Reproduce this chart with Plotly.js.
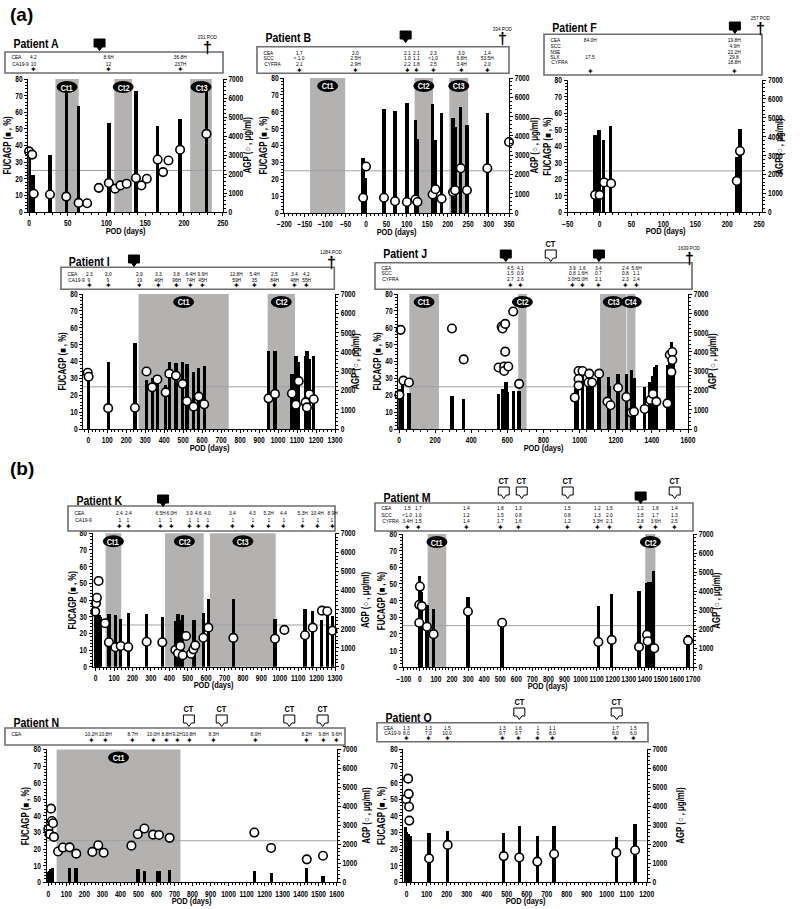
<!DOCTYPE html>
<html><head><meta charset="utf-8">
<script src="https://cdn.plot.ly/plotly-3.0.1.min.js"></script>
<style>body{margin:0;background:#fff}#chart{width:800px;height:909px}</style>
</head><body><div id="chart"></div>
<script>
// ---------------- DATA ----------------
// Patient A
const A_barDay = [0, 5, 27, 48, 64, 103, 138, 166, 195, 229];
const A_fucagp = [36, 22, 34.5, 71.5, 63.5, 53.5, 72.5, 52, 56, 76];
const A_agpDay = [0, 4, 6, 27, 48, 64, 75, 90, 103, 111, 118, 126, 138, 145, 152, 166, 173, 180, 195, 229];
const A_agp = [3190, 3020, 960, 920, 810, 480, 460, 1270, 1530, 1230, 1400, 1490, 1790, 1400, 1750, 2760, 2100, 2710, 3280, 4110];
const A_ctStart = [34, 110, 208];
const A_ctEnd = [64, 133, 236];
const A_hdrDay = [6, 102, 196];
const A_CEA = ['4.2', '8.6H', '36.8H'];
const A_CA199 = ['10', '12', '237H'];

// Patient B
const B_barDay = [-7, -2, 44, 71, 100, 121, 126, 163, 170, 185, 213, 218, 232, 247, 297];
const B_fucagp = [32.5, 20.5, 61.5, 60.5, 65, 55, 44, 64.5, 43, 59.5, 56.5, 51, 63, 52, 59];
const B_agpDay = [-7, 0, 44, 71, 100, 121, 126, 163, 170, 185, 213, 218, 232, 247, 297, 350];
const B_agp = [790, 2410, 790, 610, 570, 700, 570, 960, 1230, 740, 1090, 1180, 2320, 1180, 2320, 3680];
const B_ctStart = [-137, 119, 204];
const B_ctEnd = [-51, 164, 250];
const B_hdrDay = [-164, -25, 102, 124, 164, 233, 297];
const B_CEA = ['1.7', '2.0', '2.1', '2.1', '2.3', '3.0', '1.4'];
const B_SCC = ['< 1.0', '2.5H', '1.0', '1.1', '<1.0', '6.8H', '53.5H'];
const B_CYFRA = ['2.1', '2.9H', '2.2', '1.8', '2.5', '3.4H', '2.0'];

// Patient F
const F_barDay = [-7, -1, 6, 17, 215, 220];
const F_fucagp = [47, 49.5, 44, 52, 33.5, 50.5];
const F_agpDay = [-7, 0, 7, 18, 215, 220];
const F_agp = [920, 920, 1580, 1530, 1660, 3240];
const F_ctStart = [];
const F_ctEnd = [];
const F_hdrDay = [-14, 212];
const F_CEA = ['84.0H', '19.8H'];
const F_SCC = ['', '4.9H'];
const F_NSE = ['', '22.2H'];
const F_SLX = ['17.5', '29.8'];
const F_CYFRA = ['', '18.8H'];

// Patient I
const I_barDay = [0, 105, 246, 307, 337, 364, 408, 427, 462, 497, 520, 555, 582, 611, 950, 984, 1073, 1094, 1109, 1145, 1152, 1165, 1188];
const I_fucagp = [33, 39.5, 51, 29, 30.5, 27, 26, 39.5, 39, 39.5, 38.5, 33.5, 36, 37.5, 46.5, 46, 32.5, 43.5, 39.5, 43.5, 46.5, 41.5, 43.5];
const I_agpDay = [-3, 2, 105, 246, 307, 337, 364, 408, 427, 462, 497, 520, 555, 582, 611, 950, 984, 1073, 1094, 1109, 1145, 1152, 1165, 1188];
const I_agp = [2920, 2710, 1080, 1100, 2980, 2160, 2570, 1900, 2870, 2770, 2340, 1440, 1160, 1680, 1280, 1590, 1820, 1840, 1260, 2480, 1380, 1120, 1800, 1540];
const I_ctStart = [265, 945];
const I_ctEnd = [740, 1089];
const I_hdrDay = [5, 105, 269, 368, 466, 541, 603, 782, 877, 979, 1086, 1148];
const I_CEA = ['2.3', '2.0', '2.9', '3.3', '3.8', '6.4H', '9.9H', '12.8H', '5.4H', '2.5', '3.4', '4.2'];
const I_CA199 = ['9', '9', '19', '46H', '96H', '74H', '45H', '59H', '35', '84H', '48H', '55H'];

// Patient J
const J_barDay = [6, 20, 55, 293, 358, 551, 573, 582, 592, 601, 632, 665, 977, 986, 1016, 1043, 1056, 1069, 1108, 1158, 1167, 1213, 1259, 1287, 1301, 1360, 1388, 1403, 1416, 1427, 1486, 1499, 1508, 1517];
const J_fucagp = [24, 26, 21.5, 19.5, 17.5, 20.5, 24, 24, 28, 22, 22.5, 22.5, 24, 26, 33, 28, 27, 27.5, 33, 31, 25.5, 32.5, 32.5, 35, 30.5, 25, 28, 31.5, 36.5, 38, 38, 47, 51.5, 44];
const J_agpDay = [2, 9, 24, 55, 293, 358, 551, 568, 573, 588, 582, 582, 588, 605, 632, 665, 973, 994, 994, 994, 1016, 1053, 1049, 1069, 1108, 1154, 1171, 1213, 1259, 1287, 1301, 1360, 1392, 1406, 1425, 1486, 1499, 1513, 1513, 1508];
const J_agp = [1770, 5140, 2510, 2410, 5210, 3610, 3190, 5310, 5210, 5450, 3240, 3010, 4010, 3240, 6090, 2340, 1630, 3010, 2590, 2250, 3010, 2870, 2410, 2410, 2870, 1420, 1230, 2140, 1660, 850, 900, 1040, 1510, 1820, 1420, 1330, 3850, 3990, 3580, 2960];
const J_ctStart = [57, 660, 1113, 1263];
const J_ctEnd = [221, 706, 1259, 1309];
const J_hdrDay = [618, 672, 963, 1017, 1106, 1256, 1314];
const J_CEA = ['4.5', '4.1', '3.9', '1.6', '3.4', '2.4', '5.6H'];
const J_SCC = ['1.5', '0.9', '0.8', '1.6H', '0.7', '0.8', '1.1'];
const J_CYFRA = ['2.7', '2.6', '3.0H', '3.0H', '2.1', '2.3', '2.4'];

// Patient K
const K_barDay = [-2, 3, 8, 13, 18, 23, 72, 107, 136, 177, 277, 362, 433, 447, 460, 473, 534, 585, 612, 748, 974, 1137, 1179, 1228, 1258, 1287];
const K_fucagp = [31, 31, 31, 30.5, 31, 30, 31.5, 31, 28.5, 32.5, 31.5, 30, 27.5, 31.5, 28, 31, 28, 32, 40.5, 40.5, 28.5, 34.5, 33.5, 28, 33, 30.5];
const K_agpDay = [-2, 2, 7, 16, 51, 72, 107, 136, 177, 277, 362, 433, 447, 460, 473, 491, 518, 531, 541, 585, 612, 748, 974, 1025, 1137, 1179, 1229, 1258, 1286];
const K_agp = [2890, 3330, 3620, 4500, 2280, 1280, 1020, 1090, 1030, 1310, 1280, 880, 700, 1090, 600, 1610, 680, 910, 1120, 1520, 2050, 1510, 1470, 1930, 1650, 2050, 2940, 2910, 1890];
const K_ctStart = [54, 377, 621];
const K_ctEnd = [139, 587, 978];
const K_hdrDay = [130, 178, 352, 410, 510, 556, 610, 744, 852, 940, 1022, 1124, 1205, 1284];
const K_CEA = ['2.4', '2.4', '6.5H', '6.0H', '3.9', '4.6', '4.0', '3.4', '4.3', '5.2H', '4.4', '5.3H', '10.4H', '8.9H'];
const K_CA199 = ['1', '1', '1', '1', '1', '1', '1', '1', '1', '1', '1', '1', '1', '1'];

// Patient M
const M_barDay = [-4, 4, 12, 44, 85, 299, 512, 1111, 1194, 1364, 1414, 1424, 1434, 1445, 1455, 1669];
const M_fucagp = [55, 50, 45, 37.5, 35, 42, 26.5, 37, 44, 45.5, 50.5, 51, 49, 51, 58, 19.5];
const M_agpDay = [0, -4, -4, 12, 44, 85, 299, 512, 1111, 1194, 1364, 1414, 1418, 1459, 1669];
const M_agp = [4240, 2340, 3280, 3210, 2130, 1740, 2930, 2340, 1330, 1440, 1070, 1710, 1370, 1000, 1400];
const M_ctStart = [48, 1403];
const M_ctEnd = [164, 1466];
const M_hdrDay = [-78, -10, 290, 504, 616, 920, 1107, 1182, 1374, 1468, 1585];
const M_CEA = ['1.5', '1.7', '1.4', '1.8', '1.3', '1.5', '1.2', '1.5', '1.2', '1.8', '1.4'];
const M_SCC = ['<1.0', '1.0', '1.2', '1.5', '0.8', '0.8', '1.3', '2.0', '1.5', '1.7', '1.3'];
const M_CYFRA = ['3.4H', '1.5', '1.4', '1.7', '1.6', '1.2', '3.3H', '2.1', '2.8', '3.6H', '2.5'];

// Patient N
const N_barDay = [0, 7, 15, 22, 116, 153, 498, 533, 609, 618, 673, 1145, 1237, 1434, 1524];
const N_fucagp = [6.5, 7, 8, 8.5, 8.5, 8.5, 8, 7, 7, 7, 7.5, 7, 5.5, 8.5, 4];
const N_agpDay = [0, 7, 15, 20, 26, 31, 54, 81, 118, 155, 244, 277, 307, 461, 496, 533, 581, 614, 673, 1143, 1236, 1434, 1524];
const N_agp = [2800, 2540, 3880, 3230, 3110, 2390, 1620, 1830, 1840, 1510, 1600, 1950, 1560, 1930, 2530, 2830, 2510, 2490, 2340, 2620, 1810, 1210, 1400];
const N_ctStart = [46];
const N_ctEnd = [733];
const N_hdrDay = [242, 316, 468, 583, 653, 714, 782, 917, 1150, 1434, 1526, 1597];
const N_CEA = ['10.2H', '10.8H', '8.7H', '10.0H', '8.8H', '9.2H', '10.8H', '8.3H', '8.0H', '8.2H', '9.8H', '9.6H'];

// Patient O
const O_barDay = [-7, 0, 7, 13, 18, 112, 205, 485, 563, 653, 737, 1048, 1142];
const O_fucagp = [33.5, 30, 29, 28, 28, 29.5, 31, 29.5, 34, 28, 34, 27.5, 35];
const O_agpDay = [-3, 7, 10, 12, 13, 112, 205, 485, 563, 653, 737, 1048, 1142];
const O_agp = [4380, 5460, 4660, 3980, 3250, 1260, 1970, 1380, 1310, 1090, 1490, 1560, 1690];
const O_ctStart = [];
const O_ctEnd = [];
const O_hdrDay = [-3, 107, 203, 481, 560, 655, 730, 1045, 1133];
const O_CEA = ['1.3', '1.3', '1.5', '1.3', '1.6', '1', '1.1', '1.7', '1.5'];
const O_CA199 = ['8.0', '7.0', '10.0', '9.7', '9.7', '6', '8.0', '8.0', '6.0'];

// ---------------- LAYOUT CONFIG ----------------
const W = 800, H = 909;
const FONT = 'Liberation Sans Narrow, Arial Narrow, Liberation Sans, Arial, sans-serif';

const panels = [
 {name:'Patient A', px:[28.3,222.7], py:[79,212], xr:[-1,250], dt:50,
  barDay:A_barDay, fuc:A_fucagp, agpDay:A_agpDay, agp:A_agp, ctS:A_ctStart, ctE:A_ctEnd,
  title:[5,44], box:[5,223,52,73], rowY:[57,63.5], starY:69, hdrDay:A_hdrDay,
  rows:[['CEA',A_CEA],['CA19-9',A_CA199]],
  squares:[91], sqY:44, cts:[], ctY:0, cross:231, crossY:47, crossLbl:'231 POD', rt:25},
 {name:'Patient B', px:[284.3,509], py:[78,213], xr:[-200,350], dt:50,
  barDay:B_barDay, fuc:B_fucagp, agpDay:B_agpDay, agp:B_agp, ctS:B_ctStart, ctE:B_ctEnd,
  title:[257,37], box:[257,509,46.7,73.3], rowY:[52.3,58,63.3], starY:70, hdrDay:B_hdrDay,
  rows:[['CEA',B_CEA],['SCC',B_SCC],['CYFRA',B_CYFRA]],
  squares:[97], sqY:36, cts:[], ctY:0, cross:333, crossY:39, crossLbl:'334 POD', rt:25},
 {name:'Patient F', px:[567.7,762.3], py:[80,212.3], xr:[-50,255], dt:50,
  barDay:F_barDay, fuc:F_fucagp, agpDay:F_agpDay, agp:F_agp, ctS:F_ctStart, ctE:F_ctEnd,
  title:[544,27], box:[544,762,34.3,75], rowY:[39.3,45,51,56.7,62], starY:71.7, hdrDay:F_hdrDay,
  rows:[['CEA',F_CEA],['SCC',F_SCC],['NSE',F_NSE],['SLX',F_SLX],['CYFRA',F_CYFRA]],
  squares:[212], sqY:27, cts:[], ctY:0, cross:252, crossY:28, crossLbl:'257 POD', rt:17},
 {name:'Patient I', px:[83.3,335], py:[294,429], xr:[-26,1300], dt:100,
  barDay:I_barDay, fuc:I_fucagp, agpDay:I_agpDay, agp:I_agp, ctS:I_ctStart, ctE:I_ctEnd,
  title:[61,261], box:[61,334.3,267.3,289.3], rowY:[273,279.5], starY:285, hdrDay:I_hdrDay,
  rows:[['CEA',I_CEA],['CA19-9',I_CA199]],
  squares:[241], sqY:260, cts:[], ctY:0, cross:1283, crossY:262, crossLbl:'1284 POD', rt:20},
 {name:'Patient J', px:[398.3,688], py:[294,429], xr:[-4,1600], dt:200,
  barDay:J_barDay, fuc:J_fucagp, agpDay:J_agpDay, agp:J_agp, ctS:J_ctStart, ctE:J_ctEnd,
  title:[375,254], box:[375,692,262.7,289.3], rowY:[267.3,272.7,278], starY:285, hdrDay:J_hdrDay,
  rows:[['CEA',J_CEA],['SCC',J_SCC],['CYFRA',J_CYFRA]],
  squares:[591,1107], sqY:255, cts:[840], ctY:255, cross:1611, crossY:258, crossLbl:'1639 POD', rt:24},
 {name:'Patient K', px:[92.7,335], py:[533.3,666.7], xr:[-16,1300], dt:100,
  barDay:K_barDay, fuc:K_fucagp, agpDay:K_agpDay, agp:K_agp, ctS:K_ctStart, ctE:K_ctEnd,
  title:[68,500], box:[68,335,506,531], rowY:[512,519], starY:526, hdrDay:K_hdrDay,
  rows:[['CEA',K_CEA],['CA19-9',K_CA199]],
  squares:[366], sqY:500, cts:[], ctY:0, cross:null, rt:30},
 {name:'Patient M', px:[402.7,693], py:[534,667.3], xr:[-107,1700], dt:100,
  barDay:M_barDay, fuc:M_fucagp, agpDay:M_agpDay, agp:M_agp, ctS:M_ctStart, ctE:M_ctEnd,
  title:[375,498], box:[375,693,503,531], rowY:[507.5,514,520.5], starY:527, hdrDay:M_hdrDay,
  rows:[['CEA',M_CEA],['SCC',M_SCC],['CYFRA',M_CYFRA]],
  squares:[1374], sqY:497, cts:[522,634,920,1586], ctY:492, cross:null, rt:24},
 {name:'Patient N', px:[46.7,336.7], py:[749.4,882.3], xr:[-9,1600], dt:100,
  barDay:N_barDay, fuc:N_fucagp, agpDay:N_agpDay, agp:N_agp, ctS:N_ctStart, ctE:N_ctEnd,
  title:[5,722], box:[5,345,728,745], rowY:[733], starY:740, hdrDay:N_hdrDay,
  rows:[['CEA',N_CEA]],
  squares:[], sqY:0, cts:[780,962,1337,1522], ctY:720, cross:null, rt:30},
 {name:'Patient O', px:[403.3,646.7], py:[749.4,882.3], xr:[-17,1200], dt:100,
  barDay:O_barDay, fuc:O_fucagp, agpDay:O_agpDay, agp:O_agp, ctS:O_ctStart, ctE:O_ctEnd,
  title:[377,717], box:[377,648,722.7,741.7], rowY:[727,732.5], starY:738.5, hdrDay:O_hdrDay,
  rows:[['CEA',O_CEA],['CA19-9',O_CA199]],
  squares:[], sqY:0, cts:[563,1050], ctY:713, cross:null, rt:34}
];

const data = [], shapes = [], annotations = [];
const layout = {
  width: W, height: H, autosize: false,
  margin: {l:0, r:0, t:0, b:0},
  showlegend: false,
  paper_bgcolor: 'white', plot_bgcolor: 'rgba(0,0,0,0)',
  font: {family: FONT, color: 'black'},
  bargap: 0
};

const px2px = x => x / W;
const py2py = y => 1 - y / H;
const tickfont = {family: FONT, size: 8.5, color: 'black', weight: 'bold'};
const axBase = {showline:true, linecolor:'black', linewidth:1, ticks:'outside', ticklen:3, tickangle:0,
  tickwidth:1, tickcolor:'black', showgrid:false, zeroline:false, tickfont:tickfont, fixedrange:true};
const HDR = 6.2;

function txt(x, y, text, opts) {
  annotations.push(Object.assign({xref:'paper', yref:'paper', x:px2px(x), y:py2py(y), text:text,
    showarrow:false, xanchor:'center', yanchor:'middle', font:{family:FONT, size:7, color:'black'}}, opts || {}));
}

panels.forEach((p, k) => {
  const xid = k === 0 ? 'x' : 'x' + (k + 1);
  const ylid = k === 0 ? 'y' : 'y' + (2 * k + 1);
  const yrid = 'y' + (2 * k + 2);
  const xName = k === 0 ? 'xaxis' : 'xaxis' + (k + 1);
  const ylName = k === 0 ? 'yaxis' : 'yaxis' + (2 * k + 1);
  const yrName = 'yaxis' + (2 * k + 2);
  const ppd = (p.px[1] - p.px[0]) / (p.xr[1] - p.xr[0]);
  const dx = d => p.px[0] + (d - p.xr[0]) * ppd;   // day -> pixel x

  layout[xName] = Object.assign({}, axBase, {
    domain:[px2px(p.px[0]), px2px(p.px[1])], anchor: ylid, range: p.xr, tick0: 0, dtick: p.dt,
    minor:{ticks:'outside', ticklen:2, tickcolor:'black', dtick: p.dt / 5, showgrid:false}
  });
  layout[ylName] = Object.assign({}, axBase, {
    domain:[py2py(p.py[1]), py2py(p.py[0])], anchor: xid, range:[0, 80], dtick: 10,
    minor:{ticks:'outside', ticklen:2, tickcolor:'black', dtick: 2, showgrid:false}
  });
  layout[yrName] = Object.assign({}, axBase, {
    overlaying: ylid, side:'right', anchor: xid, range:[0, 7000], dtick: 1000,
    minor:{ticks:'outside', ticklen:2, tickcolor:'black', dtick: 200, showgrid:false}
  });

  data.push({type:'bar', x:p.barDay, y:p.fuc, xaxis:xid, yaxis:ylid, width: 3.3 / ppd,
    marker:{color:'black', line:{width:0}}, hoverinfo:'skip'});
  data.push({type:'scatter', mode:'markers', x:p.agpDay, y:p.agp, xaxis:xid, yaxis:yrid, cliponaxis:false,
    marker:{symbol:'circle', size:8.5, color:'white', line:{color:'black', width:1.6}}, hoverinfo:'skip'});

  p.ctS.forEach((s, i) => {
    shapes.push({type:'rect', xref:xid, yref: ylid + ' domain', x0:s, x1:p.ctE[i], y0:0, y1:1,
      fillcolor:'#b4b1b1', line:{width:0}, layer:'below'});
  });
  shapes.push({type:'line', xref: xid + ' domain', yref: ylid, x0:0, x1:1, y0:25, y1:25,
    line:{color:'#a0a0a0', width:1}, layer:'below'});
  p.ctS.forEach((s, i) => {
    const cx = dx((s + p.ctE[i]) / 2), cy = p.py[0] + 8;
    shapes.push({type:'circle', xref:'paper', yref:'paper', x0:px2px(cx - 10.5), x1:px2px(cx + 10.5),
      y0:py2py(cy + 6), y1:py2py(cy - 6), fillcolor:'black', line:{color:'black', width:0}});
    txt(cx, cy, 'Ct' + (i + 1), {font:{family:FONT, size:9.5, color:'white', weight:'bold'}});
  });

  const cyMid = (p.py[0] + p.py[1]) / 2;
  txt(p.px[0] - 21, cyMid, 'FUCAGP (■ , %)', {textangle:-90, font:{family:FONT, size:10, color:'black', weight:'bold'}});
  txt(p.px[1] + p.rt, cyMid, 'AGP (○ , μg/ml)', {textangle:-90, font:{family:FONT, size:10, color:'black', weight:'bold'}});
  txt((p.px[0] + p.px[1]) / 2, p.py[1] + 18, 'POD (days)', {font:{family:FONT, size:9.5, color:'black', weight:'bold'}});

  txt(p.title[0], p.title[1], p.name, {xanchor:'left', font:{family:FONT, size:13.5, color:'black', weight:'bold'}});

  shapes.push({type:'rect', xref:'paper', yref:'paper', x0:px2px(p.box[0]), x1:px2px(p.box[1]),
    y0:py2py(p.box[3]), y1:py2py(p.box[2]), fillcolor:'white', line:{color:'#6e6e6e', width:1.6}});
  p.rows.forEach((r, ri) => {
    txt(p.box[0] + 3, p.rowY[ri], r[0], {xanchor:'left', font:{family:FONT, size:HDR, color:'black'}});
    r[1].forEach((v, ci) => {
      if (v !== '') txt(dx(p.hdrDay[ci]), p.rowY[ri], v, {font:{family:FONT, size:HDR, color:'black'}});
    });
  });
  p.hdrDay.forEach(d => {
    txt(dx(d), p.starY, '✦', {font:{family:'DejaVu Sans', size:8, color:'black'}});
  });

  const markPath = (cx, cy) => 'M' + px2px(cx - 5.5) + ',' + py2py(cy - 5) + ' L' + px2px(cx + 5.5) + ',' + py2py(cy - 5) +
      ' L' + px2px(cx + 5.5) + ',' + py2py(cy + 3) + ' L' + px2px(cx + 2.5) + ',' + py2py(cy + 3) +
      ' L' + px2px(cx) + ',' + py2py(cy + 6.5) + ' L' + px2px(cx - 2.5) + ',' + py2py(cy + 3) +
      ' L' + px2px(cx - 5.5) + ',' + py2py(cy + 3) + ' Z';
  p.squares.forEach(d => {
    shapes.push({type:'path', xref:'paper', yref:'paper', path:markPath(dx(d), p.sqY), fillcolor:'black', line:{color:'black', width:1}});
  });
  p.cts.forEach(d => {
    const cx = dx(d);
    shapes.push({type:'path', xref:'paper', yref:'paper', path:markPath(cx, p.ctY), fillcolor:'white', line:{color:'black', width:1}});
    txt(cx, p.ctY - 11.5, 'CT', {font:{family:FONT, size:9.5, color:'black', weight:'bold'}});
  });
  if (p.cross !== null) {
    const cx = dx(p.cross);
    txt(cx, p.crossY, '†', {font:{family:'Liberation Sans', size:16, color:'black', weight:'bold'}});
    txt(cx, p.crossY - 10, p.crossLbl, {font:{family:FONT, size:6, color:'black'}});
  }
});

txt(8, 14, '(a)', {xanchor:'left', font:{family:'Liberation Sans', size:19, color:'black', weight:'bold'}});
txt(8, 468, '(b)', {xanchor:'left', font:{family:'Liberation Sans', size:19, color:'black', weight:'bold'}});

layout.shapes = shapes;
layout.annotations = annotations;
Plotly.newPlot('chart', data, layout, {displayModeBar:false, staticPlot:true}).then(gd => {
  // emulate the condensed (narrow) typeface of the original figure
  gd.querySelectorAll('svg text').forEach(t => {
    const s = t.textContent;
    if (!s || s === '†' || s === '✦' || s === '(a)' || s === '(b)') return;
    const L = t.getComputedTextLength();
    if (L > 0) {
      t.setAttribute('textLength', (L * 0.78).toFixed(2));
      t.setAttribute('lengthAdjust', 'spacingAndGlyphs');
    }
  });
});
</script>
</body></html>
